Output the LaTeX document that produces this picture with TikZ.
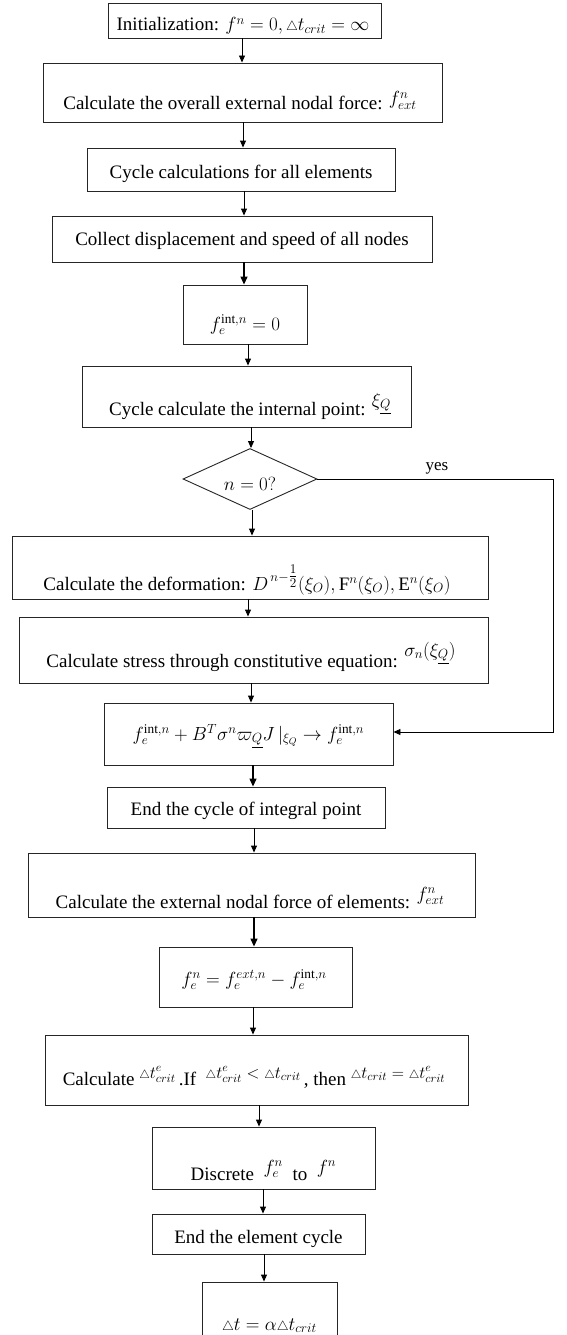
\RequirePackage{fix-cm}
\documentclass[tikz,border=0pt]{standalone}
\usepackage{amsmath,amssymb}
\usepackage{fontspec}
\setmainfont{Liberation Serif}
\usetikzlibrary{shapes.geometric,arrows.meta}
\newcommand{\dtri}{{\scriptstyle\triangle}}
\newcommand{\mybox}[5]{%
  \pgfmathsetmacro\bw{#4-#2}\pgfmathsetmacro\bh{#5-#3}%
  \pgfmathsetmacro\bcx{(#2+#4)/2}\pgfmathsetmacro\bcy{(#3+#5)/2}%
  \node[box, minimum width=\bw pt, minimum height=\bh pt] (#1) at (\bcx,\bcy) {};}
\begin{document}
\begin{tikzpicture}[x=1pt,y=-1pt,
  box/.style={draw=black!85, line width=0.9pt, inner sep=0pt, anchor=center},
  txt/.style={anchor=base, inner sep=0pt, font=\fontsize{19}{22}\selectfont},
  arr/.style={-{Triangle[length=7pt,width=6pt]}, line width=0.9pt},
  barr/.style={-{Triangle[length=8pt,width=7pt]}, line width=1.3pt}]
\useasboundingbox (0,0) rectangle (567,1335);
\fill[white] (0,0) rectangle (567,1335);
% boxes
\mybox{b1}{108}{3}{381}{38}
\mybox{b2}{43}{63}{442}{122}
\mybox{b3}{87}{148}{395}{191}
\mybox{b4}{52}{216}{432}{262}
\mybox{b5}{183}{285}{307}{344}
\mybox{b6}{82}{366}{411}{427}
\node[box, diamond, minimum width=134pt, minimum height=61pt] (dia) at (250,479) {};
\mybox{b8}{12}{536}{488}{599}
\mybox{b9}{19}{617}{488}{683}
\mybox{b10}{104}{703}{393}{765}
\mybox{b11}{107}{787}{385}{828}
\mybox{b12}{28}{853}{475}{917}
\mybox{b13}{159}{947}{352}{1007}
\mybox{b14}{45}{1035}{468}{1105}
\mybox{b15}{152}{1127}{375}{1189}
\mybox{b16}{152}{1214}{365}{1254}
\mybox{b17}{202}{1282}{337}{1345}
% texts
\node[txt] (t1) at (243,31) {Initialization: $f^n=0,\dtri t_{crit}=\infty$};
\node[txt] (t2) at (240,110) {Calculate the overall external nodal force: \raisebox{5pt}{$f^n_{ext}$}};
\node[txt] (t3) at (241,178) {Cycle calculations for all elements};
\node[txt] (t4) at (242,245) {Collect displacement and speed of all nodes};
\node[txt] (t5) at (245,330) {$f_e^{\mathrm{int},n}=0$};
\node[txt] (t6) at (250,415) {Cycle calculate the internal point: \raisebox{9pt}{$\xi_{\underline{Q}}$}};
\node[txt] (t7) at (250,490) {$n=0?$};
\node[txt] (t8) at (247,590) {Calculate the deformation: $D^{\,n-\genfrac{}{}{0.4pt}{1}{1}{2}}(\xi_O),\mathrm{F}^n(\xi_O),\mathrm{E}^n(\xi_O)$};
\node[txt] (t9) at (251,667) {Calculate stress through constitutive equation: \raisebox{11pt}{$\sigma_n(\xi_{\underline{Q}})$}};
\node[txt] (t10) at (248.5,740) {$f_e^{\mathrm{int},n}+B^T\sigma^n\varpi_{\underline{Q}}J\,|_{\xi_Q}\rightarrow f_e^{\mathrm{int},n}$};
\node[txt] (t11) at (246,815) {End the cycle of integral point};
\node[txt] (t12) at (250,908) {Calculate the external nodal force of elements: \raisebox{8pt}{$f_{ext}^n$}};
\node[txt] (t13) at (254,985) {$f_e^n=f_e^{ext,n}-f_e^{\mathrm{int},n}$};
\node[txt] (t14) at (254,1085) {Calculate \raisebox{7pt}{\fontsize{17}{19}\selectfont$\dtri t^e_{crit}$}\,.If\ \ \raisebox{7pt}{\fontsize{17}{19}\selectfont$\dtri t^e_{crit}<\dtri t_{crit}$}\,, then \raisebox{7pt}{\fontsize{17}{19}\selectfont$\dtri t_{crit}=\dtri t^e_{crit}$}};
\node[txt] (t15) at (263.5,1180) {Discrete\ \ \raisebox{7pt}{$f_e^n$}\ \ to\ \ \raisebox{7pt}{$f^n$}};
\node[txt] (t16) at (258.5,1243) {End the element cycle};
\node[txt] (t17) at (269.5,1330) {$\dtri t=\alpha\dtri t_{crit}$};
\node[anchor=base, inner sep=0pt, font=\fontsize{17}{20}\selectfont] (yes) at (437,470) {yes};
% arrows
\draw[arr] (b1.south -| 242,0) -- (b2.north -| 242,0);
\draw[arr] (b2.south -| 243,0) -- (b3.north -| 243,0);
\draw[arr] (b3.south -| 244,0) -- (b4.north -| 244,0);
\draw[barr] (b4.south -| 244,0) -- (b5.north -| 244,0);
\draw[arr] (b5.south -| 248,0) -- (b6.north -| 248,0);
\draw[arr] (b6.south -| 251,0) -- (dia.north -| 251,0);
\draw[arr] (dia.south -| 252,0) -- (b8.north -| 252,0);
\draw[arr] (b8.south -| 248,0) -- (b9.north -| 248,0);
\draw[arr] (b9.south -| 251,0) -- (b10.north -| 251,0);
\draw[barr] (b10.south -| 253,0) -- (b11.north -| 253,0);
\draw[arr] (b11.south -| 254,0) -- (b12.north -| 254,0);
\draw[barr] (b12.south -| 254,0) -- (b13.north -| 254,0);
\draw[arr] (b13.south -| 253,0) -- (b14.north -| 253,0);
\draw[arr] (b14.south -| 259,0) -- (b15.north -| 259,0);
\draw[arr] (b15.south -| 263,0) -- (b16.north -| 263,0);
\draw[arr] (b16.south -| 264,0) -- (b17.north -| 264,0);
% loop
\coordinate (lp1) at (553,479);
\coordinate (lp2) at (553,732);
\draw[arr] (dia.east) -- (lp1) -- (lp2) -- (b10.east |- lp2);
\end{tikzpicture}
\end{document}
